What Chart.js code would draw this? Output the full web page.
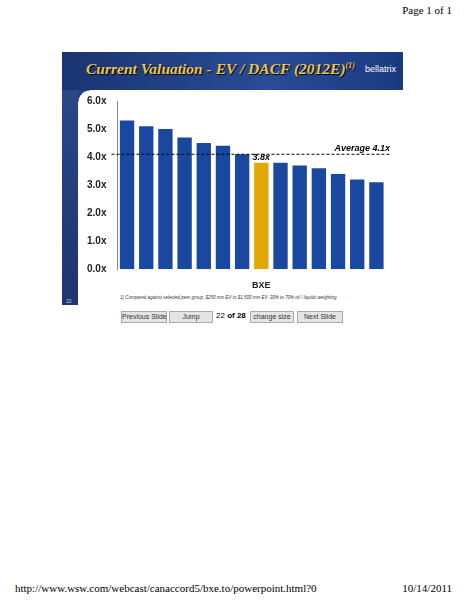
<!DOCTYPE html><html><head><meta charset="utf-8">
<script src="https://cdn.jsdelivr.net/npm/chart.js@4/dist/chart.umd.min.js"></script>
<style>
body{margin:0;width:464px;height:600px;background:#fff;position:relative;font-family:"Liberation Serif",serif;overflow:hidden}
.abs{position:absolute}
#slide{left:62px;top:52px;width:341px;height:253px;background:#fff}
#strip{left:62px;top:52px;width:16px;height:253px;background:linear-gradient(#2c4a8a,#1d3570)}
#bar{left:62px;top:52px;width:341px;height:38px;background:linear-gradient(90deg,#1a3470,#2a4c96 60%,#1a3a80)}
#corner{left:78px;top:90px;width:12px;height:12px;background:radial-gradient(circle at 100% 100%,#fff 11px,#23408a 12px)}
#title{left:86px;top:60px;font:italic bold 15.5px "Liberation Serif",serif;color:#e8c65a;text-shadow:1px 1px 1px #000;white-space:nowrap}
#logo{left:365px;top:64px;font:9px "Liberation Sans",sans-serif;color:#fff}
#note{left:120px;top:295px;font:italic 4.5px "Liberation Sans",sans-serif;color:#333;white-space:nowrap}
.btn{top:311px;height:10px;background:#e4e4e4;border:1px solid #aaa;font:7px "Liberation Sans",sans-serif;color:#333;text-align:center;line-height:10px;white-space:nowrap}
</style></head><body>
<div class="abs" style="right:12px;top:4px;font-size:11px">Page 1 of 1</div>
<div class="abs" id="slide"></div><div class="abs" id="strip"></div><div class="abs" id="bar"></div><div class="abs" id="corner"></div>
<div class="abs" id="title">Current Valuation - EV / DACF (2012E)<sup style="font-size:8px">(1)</sup></div>
<div class="abs" id="logo">bellatrix</div>
<div class="abs" style="left:66px;top:298px;font:5px sans-serif;color:#ccc">22</div>
<div class="abs" id="note">1) Compared against selected peer group, $250 mm EV to $1,500 mm EV, 30% to 70% oil / liquids weighting</div>
<div class="abs btn" style="left:121px;width:44px">Previous Slide</div>
<div class="abs btn" style="left:169px;width:42px">Jump</div>
<div class="abs" style="left:216px;top:311px;font:8px 'Liberation Sans',sans-serif">22 <b>of 28</b></div>
<div class="abs btn" style="left:250px;width:42px">change size</div>
<div class="abs btn" style="left:297px;width:44px">Next Slide</div>
<div class="abs" style="left:15px;top:582px;font-size:11px">http://www.wsw.com/webcast/canaccord5/bxe.to/powerpoint.html?0</div>
<div class="abs" style="right:12px;top:582px;font-size:11px">10/14/2011</div>
<div class="abs" style="left:84px;top:92px;width:312px;height:202px"><canvas id="c"></canvas></div>
<script>
const categories=["","","","","","","","BXE","","","","","",""];
const values=[5.3,5.1,5.0,4.7,4.5,4.4,4.1,3.8,3.8,3.7,3.6,3.4,3.2,3.1];
const highlightIndex=7;
const average=4.1;
const yTicks=[0,1,2,3,4,5,6];
const colors=values.map((v,i)=>i===highlightIndex?'#e0a800':'#1a48a0');
const annot={id:'annot',afterDatasetsDraw(ch){
 const {ctx,scales:{x,y},chartArea:a}=ch;const ya=y.getPixelForValue(average);
 ctx.save();ctx.setLineDash([3,2]);ctx.strokeStyle='#000';ctx.lineWidth=1;
 ctx.beginPath();ctx.moveTo(a.left-6,ya);ctx.lineTo(a.right+4,ya);ctx.stroke();ctx.setLineDash([]);
 ctx.font='italic bold 9px "Liberation Sans",sans-serif';ctx.fillStyle='#000';ctx.textAlign='right';ctx.textBaseline='bottom';
 ctx.fillText('Average '+average.toFixed(1)+'x',a.right+4,ya-1);
 ctx.textAlign='center';ctx.fillText(values[highlightIndex].toFixed(1)+'x',x.getPixelForValue(highlightIndex),y.getPixelForValue(values[highlightIndex])-1);
 ctx.restore();}};
new Chart(document.getElementById('c'),{type:'bar',data:{labels:categories,datasets:[{data:values,backgroundColor:colors,categoryPercentage:0.85,barPercentage:0.88}]},
options:{responsive:true,maintainAspectRatio:false,animation:false,layout:{padding:{right:10,top:4}},plugins:{legend:{display:false},tooltip:{enabled:false}},
scales:{y:{min:0,max:6,afterBuildTicks:s=>{s.ticks=yTicks.map(v=>({value:v}))},grid:{display:false},border:{color:'#888'},ticks:{color:'#222',font:{family:'Liberation Sans',weight:'bold',size:10},callback:v=>v.toFixed(1)+'x'}},
x:{grid:{display:false},border:{display:false},ticks:{autoSkip:false,maxRotation:0,color:'#222',font:{family:'Liberation Sans',weight:'bold',size:9}}}}},plugins:[annot]});
</script></body></html>
